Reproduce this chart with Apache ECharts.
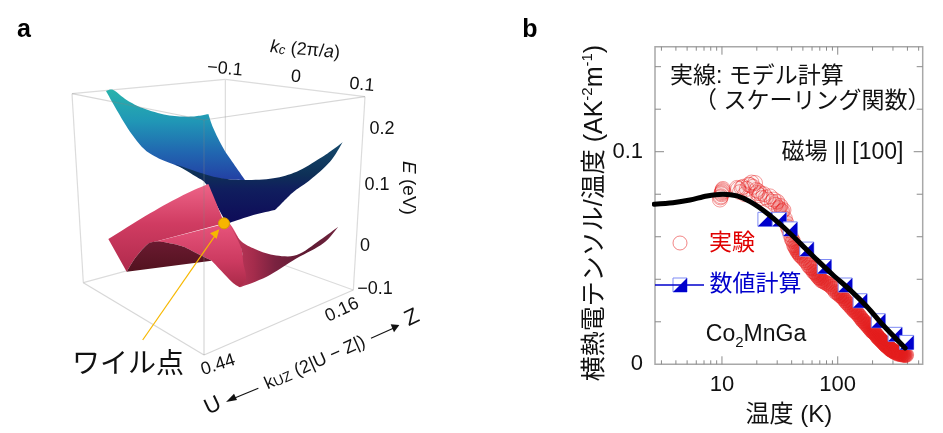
<!DOCTYPE html>
<html><head><meta charset="utf-8">
<style>html,body{margin:0;padding:0;background:#fff}#c{width:943px;height:433px}</style>
<script src="https://cdn.jsdelivr.net/npm/echarts@6/dist/echarts.min.js"></script>
</head><body><div id="c"></div>
<script>
// ---------- panel b data ----------
const measuredT = [9.6,9.7,9.8,9.9,10,10.1,10.2,10.1,9.9,13.5,13.8,14.3,14.8,15.2,15.8,16.4,17,17.5,18,18.5,19.3,19.8,20,20.5,21,21.5,22.2,23,24,25,26,27,28,29,30,31,32,33,34,35,36,37,38,39,40,41,42,43,44,45,46,47,48,50,52,54,56,58,60,62,64,66,68,70,72,75,78,81,84,88,92,96,100,104,108,112,116,120,125,130,135,140,145,150,155,160,165,170,175,180,185,190,195,200,205,210,215,220,225,230,235,240,245,250,255,260,265,270,275,280,285,290,295,300,305,310,320,330,340,350,360,370,380,390];
const measuredValue = [.0775,.0785,.079,.08,.081,.082,.0825,.0815,.0805,.083,.0825,.081,.083,.0835,.08,.0825,.0845,.0843,.0855,.0835,.0853,.082,.0806,.0815,.0795,.0805,.0782,.08,.0785,.0775,.079,.0765,.0775,.075,.0765,.0735,.0745,.072,.0725,.0685,.0665,.0645,.063,.061,.059,.058,.056,.055,.054,.053,.0525,.0515,.051,.05,.049,.048,.0465,.0455,.045,.0435,.043,.042,.041,.0405,.0395,.039,.0385,.038,.0375,.0365,.0355,.034,.0335,.0325,.032,.031,.03,.029,.028,.027,.026,.025,.0245,.0235,.0225,.0215,.0205,.02,.019,.0185,.0175,.017,.016,.0155,.015,.0145,.014,.013,.0125,.012,.0115,.011,.0105,.01,.0095,.009,.0085,.0085,.008,.0075,.007,.007,.0065,.0065,.006,.0058,.0055,.005,.005,.0048,.0046,.0045,.0044,.0044];
const numericT = [23.5,31.3,38.9,54,76.6,116,156,224,313,394];
const numericValue = [.0682,.0682,.0637,.0542,.046,.0373,.0299,.0205,.0141,.0103];
const modelT = [2.6,3.77,5.29,7.42,10.2,13.5,17.5,24.5,33.7,47.2,66.2,91,127.6,179,246,382];
const modelValue = [.0753,.076,.0773,.0792,.08,.0792,.0765,.0711,.0647,.057,.0491,.042,.035,.0271,.0185,.0077];
const xMajorTicks = [10,100];
const xMinorTicks = [3,4,5,6,7,8,9,20,30,40,50,60,70,80,90,200,300,400,500];
const yMajorTicks = [0.1];
const yMinorTicks = [0.02,0.04,0.06,0.08,0.12,0.14];
const xMin = 2.64, xMax = 542, yMin = 0, yMax = 0.1494;

// ---------- panel a: outlines on the projected plane of the 3D box ----------
const boxBack = [[[216,281],[676,238]],[[676,238],[1095,290]],[[676,238],[676,732]],[[250,848],[676,732]],[[676,732],[1060,870]],[[216,281],[250,848]],[[1095,290],[1060,870]]];
const boxFront = [[[216,281],[612,360]],[[612,360],[1095,290]],[[612,360],[612,1065]],[[250,848],[612,1065]],[[612,1065],[1060,870]]];
const upperLight = [
  [[318,273],[340,270],[380,300],[430,325],[500,345],[560,350],[600,347],[625,342]],
  [[625,342],[640,385],[670,445],[700,490],[735,540]],
  [[735,540],[670,537],[600,525],[530,497],[470,472],[430,445],[390,395],[350,330],[318,273]]];
const upperDark = [
  [[525,492],[600,518],[665,535],[735,540],[820,535],[890,515],[960,475],[1000,448],[1028,427]],
  [[1028,427],[990,485],[930,540],[885,572],[865,590]],
  [[865,590],[850,605],[825,630]],
  [[825,630],[760,645],[690,668]],
  [[690,668],[675,660],[655,625],[635,585],[615,548],[585,528],[525,492]]];
const lowerLeft = [
  [[325,717],[450,640],[550,585],[625,552]],
  [[625,552],[645,600],[665,650],[672,670]],
  [[672,670],[465,725]],
  [[465,725],[440,735],[405,775],[380,815]],
  [[380,815],[325,717]]];
const lowerCavity = [
  [[380,815],[405,775],[440,735],[465,725],[500,728],[550,740],[590,760],[635,782]],
  [[635,782],[380,815]]];
const lowerMiddle = [
  [[465,725],[672,672]],
  [[672,672],[690,672],[720,725],[730,770],[755,810],[750,835],[720,862]],
  [[720,862],[695,845],[635,782]],
  [[635,782],[590,760],[550,740],[500,728],[465,725]]];
const lowerRight = [
  [[688,670],[720,720],[760,745],[820,765],[890,765],[960,720],[1015,680]],
  [[1015,680],[970,730],[890,775],[800,830],[720,862]],
  [[720,862],[738,835],[730,790],[722,740],[688,670]]];
const weylPoint = [672,670];
const leaderLine = [[428,1020],[650,700]];
const leaderHead = [[658,688],[630,700],[650,716]];
const arrowU = [[775,1165],[695,1198]];
const arrowUHead = [[678,1206],[702,1181],[711,1200]];
const arrowZ = [[1113,1015],[1180,985]];
const arrowZHead = [[1198,975],[1172,973],[1182,997]];

const CJK = "'Liberation Sans','Noto Sans CJK JP',sans-serif";
const G = echarts.graphic;
const v = (stops)=>new G.LinearGradient(0,0,0,1,stops.map(s=>({offset:s[0],color:s[1]})));
const h = (stops)=>new G.LinearGradient(0,0,1,0,stops.map(s=>({offset:s[0],color:s[1]})));
// rounds an outline's runs through their own read points
const spline = run=>{
  if(run.length<3) return run.slice();
  const out=[];
  for(let i=0;i<run.length-1;i++){
    const p0=run[Math.max(i-1,0)],p1=run[i],p2=run[i+1],p3=run[Math.min(i+2,run.length-1)];
    for(let k=0;k<8;k++){
      const t=k/8,t2=t*t,t3=t2*t;
      out.push([0,1].map(d=>.5*(2*p1[d]+(p2[d]-p0[d])*t+(2*p0[d]-5*p1[d]+4*p2[d]-p3[d])*t2+(3*p1[d]-p0[d]-3*p2[d]+p3[d])*t3)));
    }
  }
  out.push(run[run.length-1]);
  return out;
};
const outline = runs=>[].concat(...runs.map(spline));
const surfaces = [
  {pts:outline(upperLight), fill:v([[0,'#28B3AC'],[.35,'#2097B6'],[.7,'#2166B0'],[1,'#2340A4']])},
  {pts:outline(upperDark), fill:v([[0,'#154A6C'],[.4,'#0E3057'],[.58,'#101E5E'],[1,'#0E0B58']])},
  {pts:outline(lowerLeft), fill:v([[0,'#EE6488'],[.45,'#D03C62'],[1,'#B02A4C']])},
  {pts:outline(lowerMiddle), fill:v([[0,'#E8557C'],[.6,'#CC3A60'],[1,'#A82A48']])},
  {pts:outline(lowerRight), fill:h([[0,'#C03A5C'],[.22,'#A52C4C'],[.42,'#7A2240'],[.7,'#5E1A32'],[1,'#70243E']])},
  {pts:outline(lowerCavity), fill:v([[0,'#6A1A30'],[1,'#52121F']])}
];
const pol = (api,pts)=>pts.map(p=>api.coord(p));
const A = {coordinateSystem:'cartesian2d',xAxisIndex:1,yAxisIndex:1,silent:true,clip:false,type:'custom'};
const lineGroup = (lines,color,w,z)=>Object.assign({},A,{z,data:[[0,0]],renderItem:(p,api)=>({type:'group',children:lines.map(l=>{
  const a=api.coord(l[0]),b=api.coord(l[1]);
  return {type:'line',shape:{x1:a[0],y1:a[1],x2:b[0],y2:b[1]},style:{stroke:color,lineWidth:w}};
})})});
const polyGroup = (list,z)=>Object.assign({},A,{z,data:[[0,0]],renderItem:(p,api)=>({type:'group',children:list.map(s=>({type:'polygon',shape:{points:pol(api,s.pts)},style:{fill:s.fill}}))})});

// ticks of panel b, drawn inward on all four sides
const xTicks=(vals,len)=>({type:'custom',silent:true,z:3,data:vals.map(t=>[t,0]),renderItem:(p,api)=>{
  const t=api.value(0),a=api.coord([t,yMin]),b=api.coord([t,yMax]);
  return {type:'group',children:[
    {type:'line',shape:{x1:a[0],y1:a[1],x2:a[0],y2:a[1]-len},style:{stroke:'#8a8a8a',lineWidth:1}},
    {type:'line',shape:{x1:b[0],y1:b[1],x2:b[0],y2:b[1]+len},style:{stroke:'#8a8a8a',lineWidth:1}}]};
}});
const yTicks=(vals,len)=>({type:'custom',silent:true,z:3,data:vals.map(t=>[xMin,t]),renderItem:(p,api)=>{
  const t=api.value(1),a=api.coord([xMin,t]),b=api.coord([xMax,t]);
  return {type:'group',children:[
    {type:'line',shape:{x1:a[0],y1:a[1],x2:a[0]+len,y2:a[1]},style:{stroke:'#8a8a8a',lineWidth:1}},
    {type:'line',shape:{x1:b[0],y1:b[1],x2:b[0]-len,y2:b[1]},style:{stroke:'#8a8a8a',lineWidth:1}}]};
}});
const halfSquare=(c,s)=>[
  {type:'rect',shape:{x:c[0]-s/2,y:c[1]-s/2,width:s,height:s},style:{fill:'#fff',stroke:'#7f8bf5',lineWidth:1}},
  {type:'polygon',shape:{points:[[c[0]+s/2,c[1]-s/2],[c[0]+s/2,c[1]+s/2],[c[0]-s/2,c[1]+s/2]]},style:{fill:'#0000CC'}}
];
const txt=(text,x,y,size,rot,extra)=>({type:'text',x,y,rotation:(rot||0)*Math.PI/180,z:20,silent:true,
  style:Object.assign({text,fontSize:size,fontFamily:CJK,fill:'#111',align:'center',verticalAlign:'middle'},extra||{})});
const redFill=t=>t<30?0.03:t<40?0.18:t<60?0.3:t<100?0.38:t<200?0.48:0.6;

const option={
  animation:false,backgroundColor:'#fff',
  grid:[
    {left:655,top:46.7,width:267.7,height:317.6,show:true,borderColor:'#a8a8a8',borderWidth:1.5,backgroundColor:'transparent'},
    {left:0,top:0,width:480,height:433,show:false}
  ],
  xAxis:[
    {type:'log',logBase:10,min:xMin,max:xMax,gridIndex:0,
     axisLine:{show:false},axisTick:{show:false},splitLine:{show:false},minorTick:{show:false},
     axisLabel:{fontSize:22,color:'#111',fontFamily:CJK,margin:10,hideOverlap:false,showMinLabel:true,showMaxLabel:true,
       formatter:t=>(Math.abs(t-10)<.01||Math.abs(t-100)<.01)?String(Math.round(t)):''},
     name:'温度 (K)',nameLocation:'middle',nameGap:39,nameTextStyle:{fontSize:24,color:'#111',fontFamily:CJK}},
    {type:'value',gridIndex:1,min:0,max:1440,show:false}
  ],
  yAxis:[
    {type:'value',min:yMin,max:yMax,interval:0.1,gridIndex:0,
     axisLine:{show:false},axisTick:{show:false},splitLine:{show:false},
     axisLabel:{fontSize:22,color:'#111',fontFamily:CJK,margin:12,showMaxLabel:false,
       formatter:t=>t>0.11?'':(t===0?'0':'0.1')}},
    {type:'value',gridIndex:1,min:0,max:1299,inverse:true,show:false}
  ],
  series:[
    lineGroup(boxBack,'#dcdcdc',1.2,1),
    polyGroup(surfaces.slice(0,2),2),
    polyGroup(surfaces.slice(2),3),
    lineGroup(boxFront,'rgba(130,130,130,0.32)',1.2,4),
    Object.assign({},A,{z:5,data:[[0,0]],renderItem:(p,api)=>{
      const w=api.coord(weylPoint);
      const l=api.coord(leaderLine[0]),m=api.coord(leaderLine[1]);
      const a=api.coord(arrowU[0]),b=api.coord(arrowU[1]),c=api.coord(arrowZ[0]),d=api.coord(arrowZ[1]);
      return {type:'group',children:[
        {type:'line',shape:{x1:l[0],y1:l[1],x2:m[0],y2:m[1]},style:{stroke:'#F7B800',lineWidth:1.2}},
        {type:'polygon',shape:{points:pol(api,leaderHead)},style:{fill:'#F7B800'}},
        {type:'circle',shape:{cx:w[0],cy:w[1],r:5.5},style:{fill:'#F7B500',stroke:'#D89C00',lineWidth:1}},
        {type:'line',shape:{x1:a[0],y1:a[1],x2:b[0],y2:b[1]},style:{stroke:'#111',lineWidth:1.1}},
        {type:'polygon',shape:{points:pol(api,arrowUHead)},style:{fill:'#111'}},
        {type:'line',shape:{x1:c[0],y1:c[1],x2:d[0],y2:d[1]},style:{stroke:'#111',lineWidth:1.1}},
        {type:'polygon',shape:{points:pol(api,arrowZHead)},style:{fill:'#111'}}
      ]};
    }}),
    xTicks(xMajorTicks,8),xTicks(xMinorTicks,4),yTicks(yMajorTicks,9),yTicks(yMinorTicks,6),
    {type:'scatter',name:'実験',z:6,silent:true,symbol:'circle',symbolSize:15,
     data:measuredT.map((t,i)=>({value:[t,measuredValue[i]],itemStyle:{color:'rgba(226,28,28,'+redFill(t)+')'}})),
     itemStyle:{borderColor:'rgba(232,35,35,0.55)',borderWidth:1}},
    {type:'custom',name:'数値計算',z:7,silent:true,data:numericT.map((t,i)=>[t,numericValue[i]]),
     renderItem:(p,api)=>({type:'group',children:halfSquare(api.coord([api.value(0),api.value(1)]),14)})},
    {type:'line',name:'モデル計算',z:8,silent:true,showSymbol:false,smooth:0.3,data:modelT.map((t,i)=>[t,modelValue[i]]),
     lineStyle:{color:'#000',width:5,cap:'round'}}
  ],
  graphic:[
    txt('a',24,30,25,0,{fontWeight:'bold',fill:'#000'}),
    txt('b',530,30,25,0,{fontWeight:'bold',fill:'#000'}),
    txt('{i|k}{s|c} (2π/{i|a})',305,50,18,-5,{rich:{i:{fontStyle:'italic',fontSize:18,fontFamily:CJK,fill:'#111'},s:{fontStyle:'italic',fontSize:13,fontFamily:CJK,fill:'#111',verticalAlign:'bottom'}}}),
    txt('−0.1',225,69,18,-5),txt('0',296,77,18,-5),txt('0.1',362,85,18,-5),
    txt('0.2',382,129,18),txt('0.1',377,185,18),txt('0',365,246,18),txt('−0.1',375,289,18),
    txt('{i|E} (eV)',408,188,19,-90,{rich:{i:{fontStyle:'italic',fontSize:19,fontFamily:CJK,fill:'#111'}}}),
    txt('0.16',342,310,18,25),txt('0.44',218,365,18,18),
    txt('k{s|UZ} (2|U − Z|)',315,363,18,24,{rich:{s:{fontSize:14,fontFamily:CJK,fill:'#111',verticalAlign:'bottom'}}}),
    txt('Z',412,318,22,25),txt('U',213,406,22,25),
    txt('ワイル点',128,365,28),
    txt('{a|横熱電テンソル/温度 (AK}{s|-2}{a|m}{s|-1}{a|)}',595,213,25,90,{rich:{a:{fontSize:25,lineHeight:29,fontFamily:CJK,fill:'#111'},s:{fontSize:15,lineHeight:17,fontFamily:CJK,fill:'#111',verticalAlign:'top'}}}),
    txt('実線: モデル計算',670,77,23,0,{align:'left'}),
    txt('（ スケーリング関数）',694,102,23,0,{align:'left'}),
    txt('磁場 || [100]',842.5,153,23),
    txt('実験',732,244,23,0,{fill:'#E00000'}),
    txt('数値計算',755.5,285,23,0,{fill:'#0000CC'}),
    txt('{m|Co}{s|2}{m|MnGa}',756,335,23,0,{rich:{m:{fontSize:23,lineHeight:30,fontFamily:CJK,fill:'#111'},s:{fontSize:15,lineHeight:16,fontFamily:CJK,fill:'#111',verticalAlign:'bottom'}}}),
    {type:'circle',silent:true,z:9,shape:{cx:680,cy:243,r:7},style:{fill:'none',stroke:'rgba(232,35,35,0.55)',lineWidth:1}},
    {type:'line',silent:true,z:9,shape:{x1:655,y1:285,x2:704,y2:285},style:{stroke:'#0000CC',lineWidth:1.5}},
    {type:'group',silent:true,z:10,children:halfSquare([680,285],14)}
  ]
};
echarts.init(document.getElementById('c'),null,{renderer:'canvas'}).setOption(option);
</script></body></html>
